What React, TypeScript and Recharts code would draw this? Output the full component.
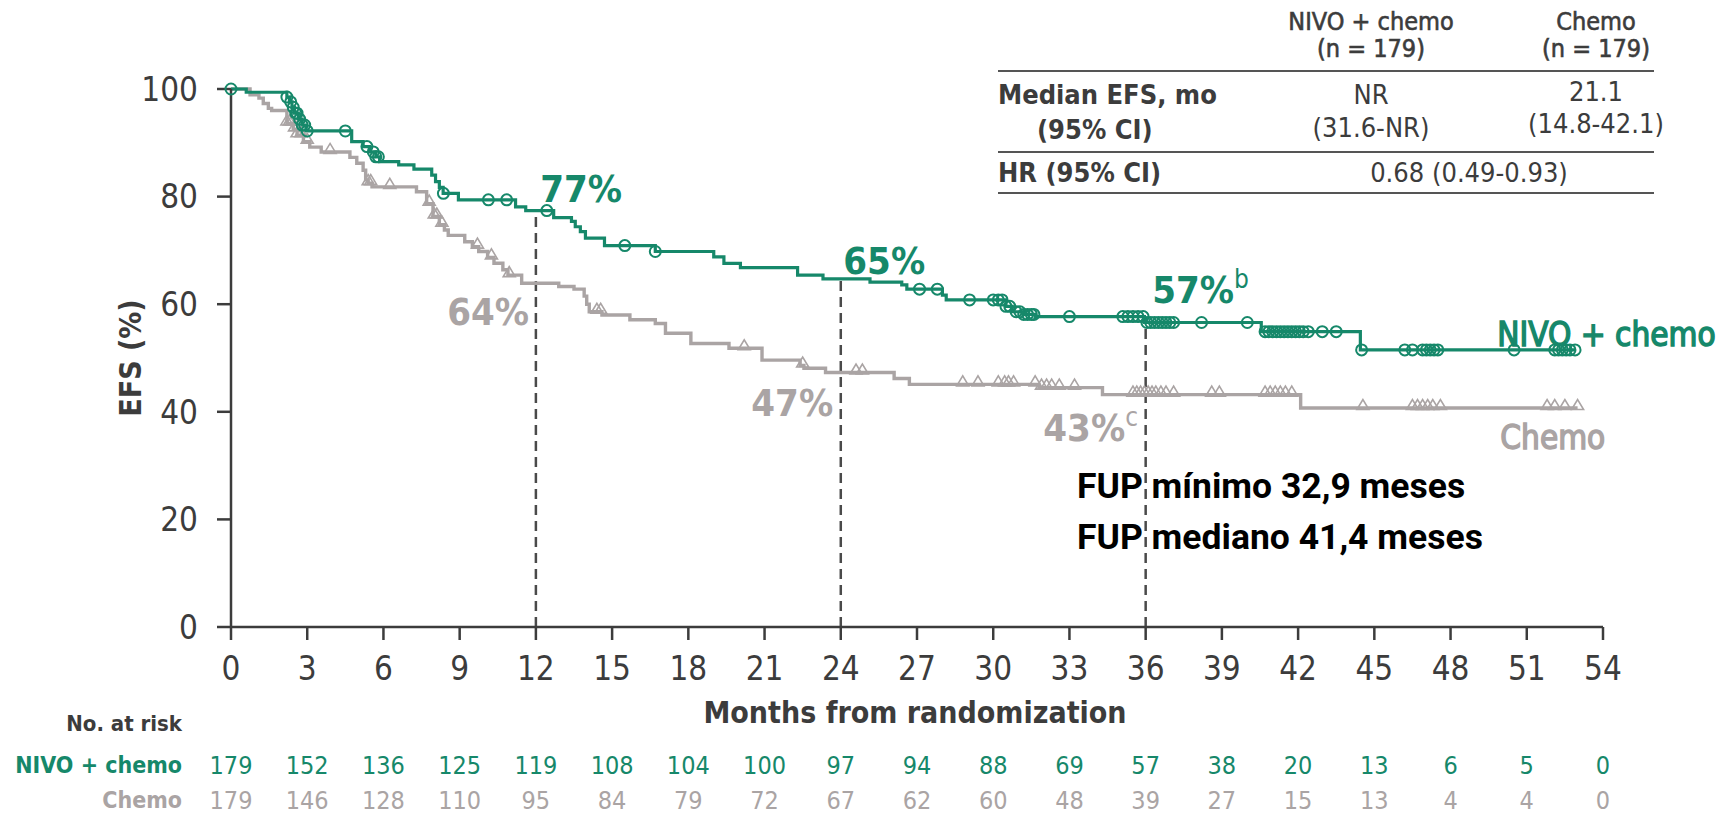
import React from 'react'
import { ComposedChart, Line, Scatter, XAxis, YAxis, ReferenceLine, ReferenceDot } from 'recharts'

const GREEN = '#16886a'
const GREY = '#aaa4a4'
const INK = '#3c3c3c'
const COND = '"DejaVu Sans Condensed", "DejaVu Sans", sans-serif'
const NARROW = '"Liberation Sans Narrow", "DejaVu Sans Condensed", sans-serif'
const FUP_FONT = 'Roboto, "Liberation Sans", sans-serif'

const monthTicks = [0, 3, 6, 9, 12, 15, 18, 21, 24, 27, 30, 33, 36, 39, 42, 45, 48, 51, 54]
const efsTicks = [0, 20, 40, 60, 80, 100]

// Kaplan-Meier steps: month of each drop and EFS (%) after it
const nivoStepMonths = [0, 0.6, 2.2, 2.3, 2.4, 2.5, 2.65, 2.8, 2.95, 4.75, 5.2, 5.45, 5.7, 5.85, 6.6, 7.2, 7.9, 8.05, 8.2, 8.35, 8.95, 11.2, 11.6, 12.7, 13.4, 13.55, 13.75, 13.95, 14.7, 16.7, 19.0, 19.4, 20.05, 22.3, 23.3, 25.15, 26.4, 26.6, 28.0, 28.15, 30.5, 30.75, 31.2, 31.65, 35.95, 40.55, 44.45]
const nivoStepEfs = [100, 99.4, 98.5, 97.6, 96.6, 95.5, 94.4, 93.3, 92.2, 90.2, 89.3, 88.3, 87.4, 86.5, 85.9, 85.1, 84.0, 82.8, 81.7, 80.6, 79.4, 78.1, 77.4, 76.1, 75.4, 74.4, 73.5, 72.3, 70.9, 69.8, 68.8, 67.6, 66.8, 65.4, 64.7, 64.1, 63.6, 62.8, 61.7, 60.8, 59.6, 58.6, 58.1, 57.7, 56.6, 54.9, 51.5]
const nivoLastMonth = 52.9
const nivoCensorMonths = [0, 2.2, 2.35, 2.45, 2.55, 2.6, 2.7, 2.8, 2.9, 3.0, 4.5, 5.35, 5.6, 5.7, 5.8, 8.36, 10.13, 10.85, 12.43, 15.5, 16.7, 27.1, 27.8, 29.07, 30.0, 30.2, 30.35, 30.5, 30.65, 30.9, 31.05, 31.2, 31.35, 31.5, 31.6, 33.0, 35.1, 35.3, 35.5, 35.7, 35.9, 36.05, 36.2, 36.35, 36.5, 36.65, 36.8, 36.95, 37.1, 38.2, 40.0, 40.7, 40.85, 41.0, 41.15, 41.3, 41.45, 41.6, 41.75, 41.9, 42.05, 42.2, 42.4, 42.95, 43.5, 44.5, 46.2, 46.5, 46.9, 47.05, 47.2, 47.35, 47.5, 50.5, 52.1, 52.25, 52.4, 52.55, 52.7, 52.9]

const chemoStepMonths = [0, 0.75, 1.1, 1.27, 1.47, 1.6, 2.2, 2.45, 2.6, 2.85, 3.1, 3.55, 4.68, 4.95, 5.2, 5.3, 5.4, 5.55, 7.3, 7.7, 7.95, 8.2, 8.4, 8.55, 9.2, 9.5, 9.75, 10.1, 10.35, 10.7, 10.9, 11.44, 12.9, 13.5, 13.9, 14.0, 14.1, 14.6, 15.7, 16.7, 17.1, 18.1, 19.6, 20.9, 22.4, 22.55, 23.4, 26.1, 26.7, 31.8, 34.3, 42.1]
const chemoStepEfs = [100, 98.9, 98.3, 97.3, 96.4, 96.0, 93.6, 92.5, 91.4, 90.2, 89.2, 88.3, 87.3, 86.2, 84.9, 83.1, 82.5, 81.8, 80.9, 78.7, 76.3, 74.8, 73.8, 72.8, 71.6, 70.7, 69.8, 68.7, 67.6, 66.4, 65.4, 63.9, 63.3, 62.8, 61.5, 60.0, 58.6, 58.0, 57.1, 56.4, 54.6, 52.7, 51.8, 49.6, 48.6, 48.1, 47.3, 46.2, 45.1, 44.5, 43.2, 40.7]
const chemoLastMonth = 53.0
const chemoCensorMonths = [2.2, 2.3, 2.4, 2.5, 2.6, 2.75, 3.0, 3.9, 5.4, 5.5, 6.25, 7.8, 8.0, 8.1, 8.3, 9.7, 10.25, 10.95, 14.4, 14.55, 20.2, 22.5, 24.6, 24.85, 28.8, 29.4, 30.2, 30.45, 30.6, 30.8, 31.65, 31.9, 32.1, 32.3, 32.6, 33.2, 35.5, 35.65, 35.8, 35.95, 36.1, 36.25, 36.4, 36.6, 36.8, 37.1, 38.6, 38.9, 40.7, 40.9, 41.1, 41.3, 41.5, 41.75, 44.55, 46.5, 46.7, 46.9, 47.1, 47.3, 47.6, 51.8, 52.1, 52.5, 53.0]

const nivoAtRisk = [179, 152, 136, 125, 119, 108, 104, 100, 97, 94, 88, 69, 57, 38, 20, 13, 6, 5, 0]
const chemoAtRisk = [179, 146, 128, 110, 95, 84, 79, 72, 67, 62, 60, 48, 39, 27, 15, 13, 4, 4, 0]

const landmarkMonths = [12, 24, 36]

// text labels anchored in data space (month, EFS)
const annotations = [
  { month: 12.17, efs: 79.0, text: '77%', sup: '', color: GREEN, anchor: 'start', size: 38, bold: true },
  { month: 11.73, efs: 56.1, text: '64%', sup: '', color: GREY, anchor: 'end', size: 38, bold: true },
  { month: 24.1, efs: 65.7, text: '65%', sup: '', color: GREEN, anchor: 'start', size: 38, bold: true },
  { month: 23.7, efs: 39.3, text: '47%', sup: '', color: GREY, anchor: 'end', size: 38, bold: true },
  { month: 36.26, efs: 60.2, text: '57%', sup: 'b', color: GREEN, anchor: 'start', size: 38, bold: true },
  { month: 35.7, efs: 34.6, text: '43%', sup: 'c', color: GREY, anchor: 'end', size: 38, bold: true },
  { month: 49.84, efs: 52.2, text: 'NIVO + chemo', sup: '', color: GREEN, anchor: 'start', size: 33, bold: false },
  { month: 49.96, efs: 33.1, text: 'Chemo', sup: '', color: GREY, anchor: 'start', size: 33, bold: false },
]

const efsAt = (months: number[], efs: number[], m: number) => {
  let v = efs[0]
  for (let i = 0; i < months.length; i++) if (months[i] <= m) v = efs[i]
  return v
}

const curve = (months: number[], efs: number[], last: number) =>
  [...months.map((m, i) => ({ m, s: efs[i] })), { m: last, s: efs[efs.length - 1] }]

const censors = (times: number[], months: number[], efs: number[]) =>
  times.map((m) => ({ m, s: efsAt(months, efs, m) }))

const nivoCurve = curve(nivoStepMonths, nivoStepEfs, nivoLastMonth)
const chemoCurve = curve(chemoStepMonths, chemoStepEfs, chemoLastMonth)
const nivoCensors = censors(nivoCensorMonths, nivoStepMonths, nivoStepEfs)
const chemoCensors = censors(chemoCensorMonths, chemoStepMonths, chemoStepEfs)

const CircleMark = (p: any) => (
  <circle cx={p.cx} cy={p.cy} r={5.5} fill="none" stroke={GREEN} strokeWidth={2} />
)

const TriangleMark = (p: any) => (
  <path d={`M${p.cx - 6},${p.cy + 1.5} L${p.cx + 6},${p.cy + 1.5} L${p.cx},${p.cy - 8.5} Z`} fill="none" stroke={GREY} strokeWidth={1.6} />
)

const MonthTick = (p: any) => {
  const i = monthTicks.indexOf(p.payload.value)
  return (
    <g>
      <text x={p.x} y={p.y + 38} textAnchor="middle" fontFamily={NARROW} fontSize={33} fill={INK}>{p.payload.value}</text>
      <text x={p.x} y={p.y + 132} textAnchor="middle" fontFamily={NARROW} fontSize={25} fill={GREEN}>{nivoAtRisk[i]}</text>
      <text x={p.x} y={p.y + 167} textAnchor="middle" fontFamily={NARROW} fontSize={25} fill={GREY}>{chemoAtRisk[i]}</text>
    </g>
  )
}

const App = () => {
  return (
    <div style={{ position: 'absolute', left: 0, top: 0, width: 1729, height: 816, background: '#fff' }}>
      <ComposedChart width={1729} height={816} margin={{ top: 89, right: 126, left: 0, bottom: 129 }} style={{ overflow: 'visible' }}>
        <XAxis
          type="number"
          dataKey="m"
          domain={[0, 54]}
          ticks={monthTicks}
          interval={0}
          height={60}
          tickSize={13}
          axisLine={{ stroke: INK, strokeWidth: 2.5 }}
          tickLine={{ stroke: INK, strokeWidth: 2.5 }}
          tick={<MonthTick />}
        />
        <YAxis
          type="number"
          dataKey="s"
          domain={[0, 100]}
          ticks={efsTicks}
          width={231}
          tickSize={14}
          tickMargin={19}
          axisLine={{ stroke: INK, strokeWidth: 2.5 }}
          tickLine={{ stroke: INK, strokeWidth: 2.5 }}
          tick={{ fontFamily: NARROW, fontSize: 33, fill: INK }}
        />
        {landmarkMonths.map((m) => (
          <ReferenceLine
            key={m}
            segment={[{ x: m, y: 0 }, { x: m, y: efsAt(nivoStepMonths, nivoStepEfs, m) }]}
            stroke="#4a4a4a"
            strokeWidth={2.5}
            strokeDasharray="10 6"
          />
        ))}
        <Line data={chemoCurve} dataKey="s" type="stepAfter" stroke={GREY} strokeWidth={3.4} dot={false} isAnimationActive={false} />
        <Line data={nivoCurve} dataKey="s" type="stepAfter" stroke={GREEN} strokeWidth={3.2} dot={false} isAnimationActive={false} />
        <Scatter data={chemoCensors} dataKey="s" shape={TriangleMark} isAnimationActive={false} />
        <Scatter data={nivoCensors} dataKey="s" shape={CircleMark} isAnimationActive={false} />
        {annotations.map((a) => (
          <ReferenceDot
            key={a.text}
            x={a.month}
            y={a.efs}
            r={0}
            shape={(p: any) => (
              <text
                x={p.cx}
                y={p.cy}
                textAnchor={a.anchor}
                fontFamily={COND}
                fontWeight={a.bold ? 'bold' : 'normal'}
                fontSize={a.size}
                fill={a.color}
                stroke={a.bold ? 'none' : a.color}
                strokeWidth={a.bold ? 0 : 1.4}
              >
                {a.text}
                {a.sup && <tspan dy={-15} fontSize={26} fontWeight="normal">{a.sup}</tspan>}
              </text>
            )}
          />
        ))}
      </ComposedChart>

      <svg width={1729} height={816} style={{ position: 'absolute', left: 0, top: 0, pointerEvents: 'none' }}>
        {/* axis titles */}
        <text x={130} y={358} transform="rotate(-90 130 358)" textAnchor="middle" dominantBaseline="central" fontFamily={COND} fontWeight="bold" fontSize={30} fill={INK}>EFS (%)</text>
        <text x={915} y={723} textAnchor="middle" fontFamily={COND} fontWeight="bold" fontSize={30} fill={INK}>Months from randomization</text>

        {/* number at risk labels */}
        <text x={182} y={731} textAnchor="end" fontFamily={COND} fontWeight={600} fontSize={22} fill={INK}>No. at risk</text>
        <text x={182} y={773} textAnchor="end" fontFamily={COND} fontWeight="bold" fontSize={23} fill={GREEN}>NIVO + chemo</text>
        <text x={182} y={808} textAnchor="end" fontFamily={COND} fontWeight="bold" fontSize={23} fill={GREY}>Chemo</text>

        {/* follow-up note */}
        <text x={1077} y={498} fontFamily={FUP_FONT} fontWeight="bold" fontSize={35.5} fill="#000">FUP mínimo 32,9 meses</text>
        <text x={1077} y={549} fontFamily={FUP_FONT} fontWeight="bold" fontSize={35.5} fill="#000">FUP mediano 41,4 meses</text>

        {/* summary table */}
        <g fontFamily={COND} fontSize={27} fill={INK}>
          <g fontSize={25} stroke={INK} strokeWidth={0.6}>
            <text x={1371} y={30} textAnchor="middle">NIVO + chemo</text>
            <text x={1371} y={57} textAnchor="middle">(n = 179)</text>
            <text x={1596} y={30} textAnchor="middle">Chemo</text>
            <text x={1596} y={57} textAnchor="middle">(n = 179)</text>
          </g>
          <line x1={998} x2={1654} y1={71} y2={71} stroke="#555" strokeWidth={2} />
          <text x={998} y={104} fontWeight="bold">Median EFS, mo</text>
          <text x={1037} y={139} fontWeight="bold">(95% CI)</text>
          <text x={1371} y={104} textAnchor="middle">NR</text>
          <text x={1371} y={137} textAnchor="middle">(31.6-NR)</text>
          <text x={1596} y={101} textAnchor="middle">21.1</text>
          <text x={1596} y={133} textAnchor="middle">(14.8-42.1)</text>
          <line x1={998} x2={1654} y1={152} y2={152} stroke="#555" strokeWidth={2} />
          <text x={998} y={182} fontWeight="bold">HR (95% CI)</text>
          <text x={1469} y={182} textAnchor="middle">0.68 (0.49-0.93)</text>
          <line x1={998} x2={1654} y1={193} y2={193} stroke="#555" strokeWidth={2} />
        </g>
      </svg>
    </div>
  )
}

export default App
